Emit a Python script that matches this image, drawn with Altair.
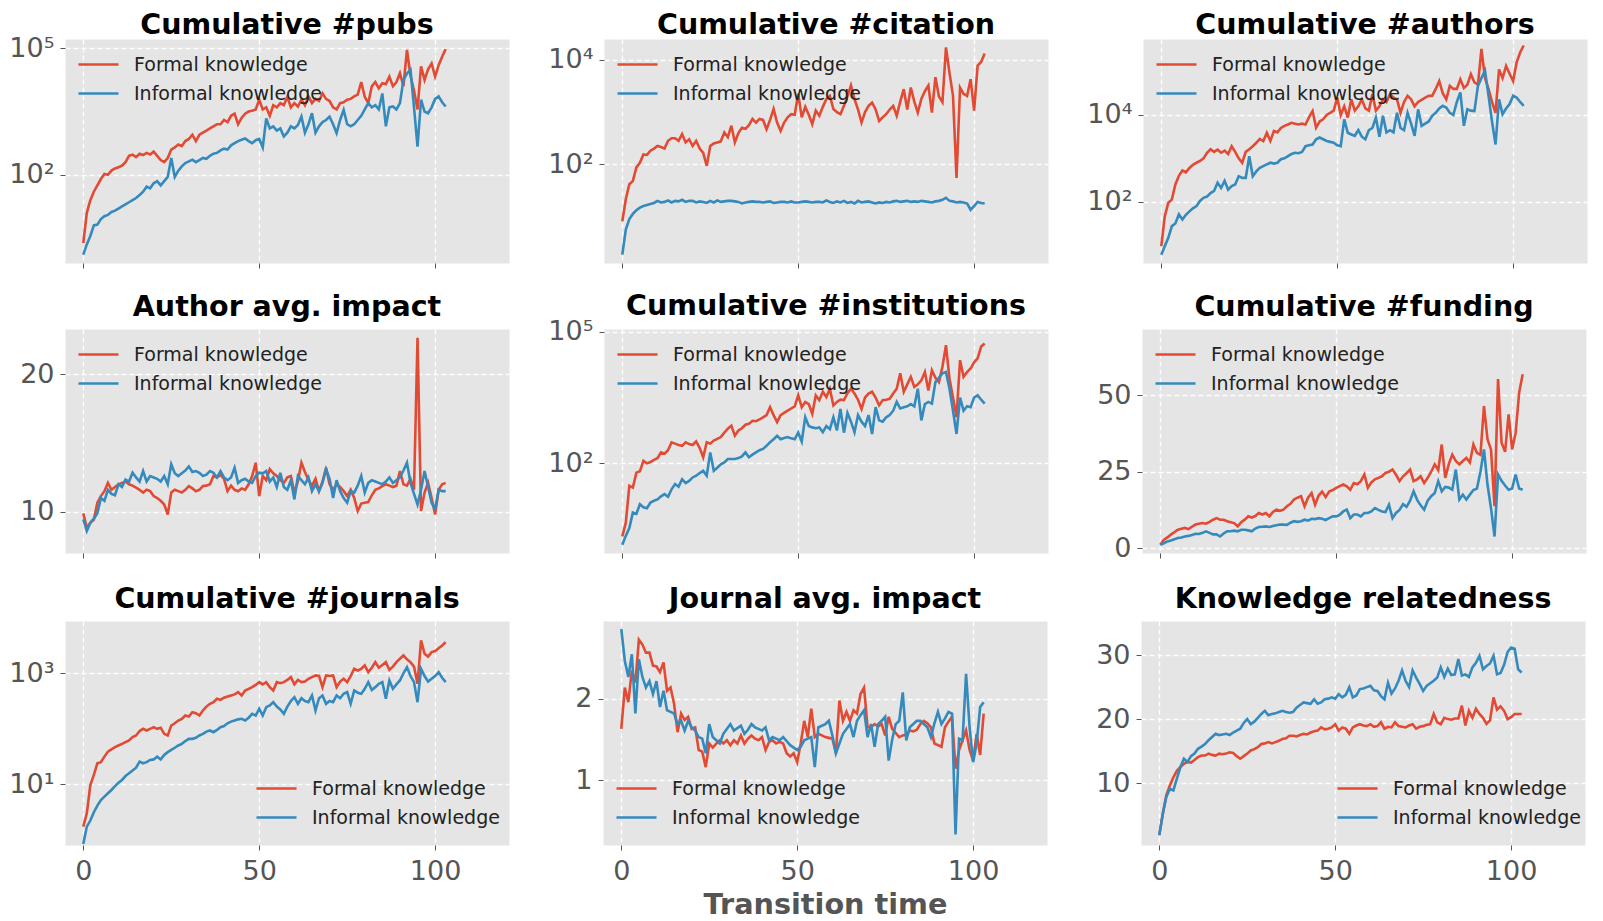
import altair as alt
import pandas as pd

T = list(range(104))
SERIES = ["Formal knowledge", "Informal knowledge"]
COLORS = ["#E24A33", "#348ABD"]

# ---- Cumulative #pubs (log10 of value) ----
pubs_formal_log10 = [
    0.38, 1.1, 1.4, 1.6, 1.75, 1.9, 2.02, 2.0, 2.1, 2.15,
    2.18, 2.22, 2.3, 2.45, 2.48, 2.42, 2.5, 2.47, 2.52, 2.48,
    2.55, 2.45, 2.35, 2.3, 2.4, 2.6, 2.65, 2.72, 2.68, 2.8,
    2.85, 2.95, 2.8, 2.95, 3.0, 3.05, 3.1, 3.15, 3.2, 3.2,
    3.3, 3.25, 3.4, 3.45, 3.2, 3.35, 3.45, 3.5, 3.52, 3.55,
    3.78, 3.55, 3.6, 3.4, 3.65, 3.6, 3.7, 3.65, 3.85, 3.6,
    3.7, 3.62, 3.78, 3.65, 3.86, 3.7, 3.8, 3.75, 3.93, 3.8,
    3.75, 3.6, 3.55, 3.7, 3.72, 3.78, 3.8, 3.86, 3.9, 4.2,
    3.85, 3.7, 4.1, 4.2, 4.05, 4.17, 4.15, 4.33, 4.1, 4.2,
    4.41, 4.1, 4.96, 4.35, 4.0, 3.55, 4.57, 4.25, 4.5, 4.64,
    4.33, 4.6, 4.8, 4.98]
pubs_informal_log10 = [
    0.11, 0.35, 0.55, 0.8, 0.82, 0.95, 1.02, 1.05, 1.12, 1.15,
    1.2, 1.25, 1.3, 1.35, 1.4, 1.45, 1.52, 1.6, 1.72, 1.68,
    1.8, 1.85, 1.75, 1.85, 1.95, 2.4, 1.95, 2.1, 2.2, 2.28,
    2.32, 2.36, 2.3, 2.35, 2.4, 2.38, 2.45, 2.5, 2.52, 2.58,
    2.62, 2.6, 2.7, 2.75, 2.8, 2.83, 2.86, 2.8, 2.75, 2.82,
    2.85, 2.65, 3.34, 3.1, 3.15, 3.05, 3.1, 2.91, 3.0, 3.15,
    3.1, 3.18, 3.38, 3.0, 3.2, 3.46, 3.0, 3.15, 3.25, 3.3,
    3.38, 3.2, 2.99, 3.3, 3.54, 3.2, 3.15, 3.2, 3.3, 3.4,
    3.55, 3.7, 3.6, 3.65, 3.55, 3.93, 3.15, 3.6, 3.62, 3.55,
    3.7, 4.25, 4.4, 4.49, 3.6, 2.67, 3.78, 3.5, 3.46, 3.6,
    3.8, 3.86, 3.72, 3.62]

# ---- Cumulative #citation (log10) ----
cit_formal_log10 = [
    0.91, 1.33, 1.62, 1.68, 1.94, 2.03, 2.19, 2.18, 2.26, 2.3,
    2.35, 2.33, 2.3, 2.45, 2.5, 2.5, 2.45, 2.58, 2.42, 2.48,
    2.35, 2.45, 2.3, 2.22, 1.97, 2.35, 2.4, 2.42, 2.44, 2.61,
    2.52, 2.74, 2.42, 2.6, 2.7, 2.68, 2.75, 2.87, 2.8, 2.87,
    2.85, 2.67, 2.85, 3.06, 2.8, 2.64, 2.8, 2.9, 2.96, 2.95,
    3.35, 2.9, 3.1, 2.95, 2.77, 3.03, 2.93, 3.1, 3.25, 3.31,
    3.06, 3.0, 2.96, 3.12, 3.3, 3.51, 3.25, 3.05, 2.8, 3.0,
    3.12, 3.18, 3.05, 2.83, 2.9, 2.96, 3.05, 3.12, 2.93, 3.2,
    3.44, 3.05, 3.47, 3.2, 2.99, 3.25, 3.4, 3.51, 2.99, 3.67,
    3.3, 3.19, 4.24, 3.75, 3.31, 1.74, 3.47, 3.35, 3.31, 3.63,
    3.03, 3.89, 3.96, 4.12]
cit_informal_log10 = [
    0.27, 0.75, 0.95, 1.05, 1.12, 1.17, 1.2, 1.22, 1.24, 1.26,
    1.3, 1.27, 1.28, 1.31, 1.27, 1.3, 1.29, 1.32, 1.28, 1.3,
    1.3, 1.27, 1.29, 1.28, 1.26, 1.3, 1.27, 1.31, 1.28, 1.29,
    1.3, 1.3, 1.29, 1.28, 1.25, 1.27, 1.28, 1.29, 1.28, 1.28,
    1.27, 1.28, 1.29, 1.26, 1.27, 1.28, 1.28, 1.27, 1.29, 1.27,
    1.27, 1.28, 1.29, 1.28, 1.27, 1.28, 1.28, 1.27, 1.31, 1.28,
    1.26, 1.29, 1.27, 1.3, 1.26, 1.28, 1.25, 1.3, 1.27, 1.28,
    1.29, 1.27, 1.25, 1.27, 1.26, 1.28, 1.27, 1.29, 1.3, 1.28,
    1.29, 1.3, 1.28, 1.29, 1.28, 1.3, 1.29, 1.28, 1.27, 1.29,
    1.3, 1.32, 1.36, 1.3, 1.29, 1.27, 1.28, 1.27, 1.25, 1.13,
    1.2, 1.28, 1.26, 1.25]

# ---- Cumulative #authors (log10) ----
auth_formal_log10 = [
    0.98, 1.67, 1.98, 2.05, 2.4, 2.6, 2.72, 2.68, 2.78, 2.85,
    2.9, 2.94, 3.0, 3.13, 3.21, 3.15, 3.2, 3.13, 3.18, 3.1,
    3.28, 3.15, 3.0, 2.9, 3.15, 3.21, 3.28, 3.36, 3.45, 3.4,
    3.59, 3.4, 3.63, 3.6, 3.7, 3.75, 3.78, 3.82, 3.8, 3.78,
    3.8, 3.78, 3.95, 4.09, 3.71, 3.85, 3.9, 4.0, 4.05, 4.1,
    4.4, 4.0, 4.2, 3.94, 4.36, 4.1, 4.2, 4.36, 4.15, 4.1,
    4.48, 4.1, 4.2, 4.36, 4.3, 4.48, 4.4, 4.36, 4.05, 4.3,
    4.44, 4.36, 4.2, 4.3, 4.35, 4.4, 4.44, 4.44, 4.6, 4.78,
    4.5, 4.36, 4.67, 4.6, 4.6, 4.82, 4.62, 4.7, 4.94, 4.75,
    4.7, 5.52, 4.85, 4.6, 4.3, 4.05, 5.05, 4.85, 5.13, 4.95,
    4.78, 5.21, 5.44, 5.6]
auth_informal_log10 = [
    0.78, 0.98, 1.17, 1.44, 1.5, 1.71, 1.59, 1.7, 1.78, 1.85,
    1.9, 2.02, 2.09, 2.12, 2.2, 2.25, 2.44, 2.32, 2.48, 2.28,
    2.36, 2.4, 2.59, 2.55, 2.55, 3.05, 2.59, 2.7, 2.78, 2.82,
    2.86, 2.9, 2.88, 2.9, 2.98, 3.0, 3.05, 3.1, 3.13, 3.12,
    3.15, 3.28, 3.3, 3.32, 3.44, 3.48, 3.44, 3.4, 3.38, 3.36,
    3.3, 3.28, 3.9, 3.59, 3.55, 3.52, 3.65, 3.5, 3.44, 3.65,
    3.7, 3.94, 3.5, 3.98, 3.6, 3.65, 3.6, 4.05, 3.7, 3.65,
    4.05, 3.8, 3.52, 4.13, 3.75, 3.8, 3.85, 3.98, 4.05, 4.15,
    4.21, 4.17, 4.05, 4.0, 4.3, 4.52, 3.75, 4.13, 4.1, 4.09,
    4.67, 4.85, 5.02, 4.45, 3.85, 3.32, 4.36, 4.02, 4.15, 4.25,
    4.44, 4.4, 4.3, 4.21]

# ---- Author avg. impact ----
aimp_formal = [
    9.88, 8.83, 9.2, 9.44, 10.66, 11.14, 11.5, 12.1, 11.6, 11.8,
    12.0, 12.1, 12.2, 12.0, 11.9, 11.75, 11.6, 11.4, 11.6, 11.5,
    11.14, 11.0, 10.8, 10.53, 9.8, 11.4, 11.6, 11.5, 11.4, 11.6,
    11.87, 11.7, 11.5, 11.6, 11.87, 11.9, 12.0, 12.6, 12.5, 12.7,
    12.4, 11.5, 11.9, 11.6, 11.5, 11.7, 11.6, 12.0, 12.6, 13.57,
    11.14, 12.6, 12.3, 13.1, 12.8, 12.6, 12.3, 12.1, 12.5, 12.6,
    11.4, 12.2, 13.57, 12.9, 12.3, 11.9, 12.4, 11.5, 12.2, 13.2,
    12.0, 11.6, 12.0, 11.8, 11.5, 11.14, 11.6, 11.0, 10.05, 10.6,
    10.66, 10.7, 11.2, 11.6, 11.7, 11.87, 12.0, 11.9, 11.8, 11.9,
    12.96, 12.0, 11.9, 12.4, 11.6, 22.67, 10.05, 11.4, 12.1, 11.0,
    9.8, 11.6, 12.0, 12.1]
aimp_informal = [
    9.44, 8.6, 9.2, 9.5, 9.9, 11.0, 10.8, 11.6, 11.3, 11.2,
    12.0, 11.8, 12.35, 12.2, 12.84, 12.5, 12.2, 12.96, 12.2, 12.6,
    12.5, 12.4, 12.2, 12.6, 12.0, 13.45, 12.8, 12.6, 12.8, 13.0,
    13.3, 12.9, 12.96, 12.84, 12.6, 12.7, 12.96, 12.84, 12.5, 12.96,
    12.5, 12.3, 12.5, 13.2, 12.1, 12.3, 12.4, 12.2, 12.1, 12.6,
    12.84, 12.8, 12.96, 12.2, 12.5, 11.8, 12.84, 11.8, 11.6, 12.3,
    10.9, 12.6, 12.3, 12.0, 12.5, 11.5, 12.0, 11.5, 12.1, 13.1,
    12.4, 11.0, 12.3, 11.5, 11.0, 10.66, 11.5, 11.4, 11.9, 12.6,
    11.4, 12.1, 12.3, 12.2, 12.1, 12.0, 12.2, 12.5, 12.1, 12.3,
    12.5, 13.0, 13.57, 12.1, 11.3, 10.53, 11.6, 12.96, 11.8, 10.66,
    10.2, 11.6, 11.5, 11.5]

# ---- Cumulative #institutions (log10) ----
inst_formal_log10 = [
    0.34, 0.65, 1.49, 1.45, 1.79, 1.82, 2.06, 2.0, 2.03, 2.08,
    2.12, 2.25, 2.22, 2.3, 2.48, 2.45, 2.42, 2.4, 2.48, 2.44,
    2.42, 2.5, 2.35, 2.14, 2.48, 2.45, 2.52, 2.56, 2.6, 2.7,
    2.79, 2.86, 2.63, 2.75, 2.8, 2.88, 2.9, 2.97, 2.96, 3.0,
    3.05, 3.1, 3.28, 3.1, 2.94, 3.1, 3.15, 3.2, 3.25, 3.3,
    3.55, 3.28, 3.4, 3.35, 3.13, 3.55, 3.44, 3.63, 3.51, 3.7,
    3.32, 3.4, 3.45, 3.44, 3.6, 3.7, 3.59, 3.45, 3.24, 3.5,
    3.59, 3.63, 3.5, 3.32, 3.44, 3.45, 3.47, 3.59, 3.7, 4.05,
    3.63, 3.8, 3.97, 3.74, 3.8, 3.89, 4.08, 3.66, 4.12, 3.95,
    3.85, 4.2, 4.69, 3.93, 3.5, 3.05, 4.35, 3.97, 4.08, 4.16,
    4.3, 4.39, 4.66, 4.73]
inst_informal_log10 = [
    0.15, 0.35, 0.53, 0.88, 0.85, 1.07, 1.0, 0.98, 1.11, 1.15,
    1.18, 1.25, 1.3, 1.24, 1.41, 1.53, 1.47, 1.64, 1.55, 1.6,
    1.68, 1.72, 1.78, 1.83, 1.72, 2.25, 1.83, 1.9, 1.98, 2.02,
    2.1, 2.1, 2.1, 2.12, 2.16, 2.25, 2.14, 2.2, 2.25, 2.3,
    2.33, 2.4, 2.48, 2.55, 2.63, 2.55, 2.58, 2.6, 2.57, 2.55,
    2.7, 2.5, 3.05, 2.85, 2.82, 2.8, 2.82, 2.71, 2.85, 2.78,
    3.05, 2.75, 3.24, 2.7, 3.15, 2.95, 2.71, 3.1, 2.95, 2.85,
    3.1, 2.67, 3.28, 2.98, 2.95, 3.05, 3.1, 3.2, 3.4, 3.25,
    3.28, 3.3, 3.35, 3.3, 3.7, 2.98, 3.35, 3.4, 3.36, 3.85,
    3.95, 4.05, 4.08, 3.7, 3.2, 2.67, 3.5, 3.2, 3.3, 3.28,
    3.5, 3.55, 3.45, 3.36]

# ---- Cumulative #funding ----
fund_formal = [
    1.1, 2.7, 3.5, 4.4, 5.2, 6.0, 6.3, 6.6, 6.2, 7.0,
    7.7, 8.0, 8.2, 8.0, 8.6, 9.3, 9.8, 9.3, 9.3, 8.8,
    8.5, 8.2, 7.1, 8.5, 9.3, 10.4, 10.0, 10.5, 11.5, 11.0,
    11.5, 10.4, 11.8, 12.6, 12.2, 12.6, 13.7, 14.5, 15.9, 16.5,
    17.0, 13.7, 16.5, 18.0, 14.2, 17.2, 18.5, 16.7, 18.5, 19.0,
    19.7, 20.3, 20.8, 20.2, 19.1, 21.3, 20.9, 21.9, 24.1, 19.7,
    21.5, 22.5, 23.0, 23.5, 24.6, 25.0, 25.7, 24.0, 21.9, 23.5,
    24.5, 25.7, 21.9, 22.5, 23.5, 21.3, 23.0, 25.0, 27.4, 25.5,
    33.9, 23.0, 27.5, 30.6, 28.5, 27.4, 28.5, 29.5, 28.0, 33.9,
    31.2, 30.5, 46.5, 35.6, 32.3, 13.7, 55.3, 34.5, 31.5, 43.8,
    32.3, 37.7, 50.9, 56.9]
fund_informal = [
    1.1, 1.6, 2.2, 2.5, 2.9, 3.3, 3.5, 3.8, 4.0, 4.3,
    4.7, 4.6, 5.0, 5.5, 5.0, 4.5, 4.5, 3.8, 4.8, 5.5,
    5.5, 5.7, 5.5, 6.0, 6.0, 5.8, 5.5, 6.4, 6.9, 7.0,
    7.1, 6.9, 7.2, 7.5, 7.7, 7.7, 7.6, 8.3, 8.8, 8.6,
    8.8, 9.3, 9.0, 9.6, 9.5, 9.8, 9.6, 9.2, 9.8, 10.4,
    10.4, 10.9, 12.0, 12.6, 9.8, 11.0, 11.0, 10.4, 11.5, 11.5,
    12.0, 13.1, 12.5, 12.0, 11.8, 14.2, 9.8, 11.5, 12.5, 14.4,
    13.5, 15.5, 18.6, 15.8, 14.0, 12.6, 15.5, 17.0, 18.0, 21.9,
    18.6, 20.0, 19.8, 19.1, 25.7, 15.9, 17.5, 15.9, 17.5, 19.0,
    19.5, 25.0, 32.3, 20.8, 13.0, 3.8, 24.1, 22.0, 20.5, 19.1,
    19.5, 24.1, 19.5, 19.1]

# ---- Cumulative #journals (log10) ----
jour_formal_log10 = [
    0.24, 0.48, 0.99, 1.17, 1.38, 1.4, 1.5, 1.59, 1.63, 1.67,
    1.7, 1.73, 1.76, 1.79, 1.85, 1.88, 1.96, 2.0, 1.97, 2.0,
    2.03, 2.0, 2.02, 1.91, 1.88, 2.06, 2.1, 2.15, 2.18, 2.24,
    2.22, 2.3, 2.28, 2.24, 2.33, 2.4, 2.45, 2.48, 2.54, 2.52,
    2.56, 2.58, 2.6, 2.62, 2.66, 2.6, 2.69, 2.72, 2.75, 2.79,
    2.84, 2.8, 2.84, 2.75, 2.69, 2.84, 2.82, 2.84, 2.88, 2.93,
    2.8, 2.88, 2.84, 2.85, 2.9, 2.93, 2.96, 2.95, 2.75, 2.96,
    2.95, 2.96, 2.75, 2.85, 2.9, 2.84, 2.95, 3.08, 3.05, 3.08,
    3.14, 3.02, 3.1, 3.2, 3.1, 3.15, 3.2, 3.06, 3.12, 3.2,
    3.26, 3.32, 3.25, 3.2, 3.12, 2.81, 3.59, 3.35, 3.3, 3.38,
    3.4, 3.45, 3.5, 3.56]
jour_informal_log10 = [
    -0.07, 0.24, 0.35, 0.5, 0.62, 0.72, 0.78, 0.84, 0.9, 0.97,
    1.03, 1.08, 1.15, 1.2, 1.25, 1.3, 1.41, 1.38, 1.4, 1.44,
    1.45, 1.5, 1.45, 1.53, 1.58, 1.62, 1.66, 1.7, 1.73, 1.78,
    1.82, 1.82, 1.84, 1.88, 1.91, 1.95, 1.97, 1.94, 1.98, 2.03,
    2.05, 2.1, 2.13, 2.15, 2.17, 2.18, 2.15, 2.2, 2.27, 2.24,
    2.36, 2.24, 2.39, 2.42, 2.48, 2.4, 2.35, 2.27, 2.4, 2.5,
    2.57, 2.45, 2.55, 2.5, 2.48, 2.6, 2.33, 2.55, 2.6, 2.45,
    2.5, 2.48, 2.6, 2.55, 2.63, 2.66, 2.45, 2.69, 2.65, 2.63,
    2.72, 2.84, 2.7, 2.75, 2.81, 2.84, 2.54, 2.87, 2.72, 2.8,
    2.87, 3.0, 3.11, 2.95, 2.84, 2.48, 3.08, 2.95, 2.85, 2.9,
    2.95, 3.02, 2.92, 2.84]

# ---- Journal avg. impact ----
jimp_formal = [
    1.63, 2.14, 1.96, 2.35, 2.2, 2.73, 2.67, 2.57, 2.57, 2.41,
    2.4, 2.33, 2.45, 2.1, 2.14, 1.94, 1.59, 1.82, 1.74, 1.78,
    1.63, 1.65, 1.37, 1.35, 1.16, 1.45, 1.4, 1.45, 1.49, 1.45,
    1.49, 1.43, 1.49, 1.45, 1.55, 1.45, 1.51, 1.55, 1.51, 1.49,
    1.53, 1.37, 1.47, 1.49, 1.45, 1.47, 1.45, 1.33, 1.29, 1.33,
    1.22, 1.45, 1.73, 1.53, 1.88, 1.53, 1.57, 1.55, 1.53, 1.52,
    1.51, 1.33, 1.98, 1.73, 1.84, 1.73, 1.86, 1.82, 2.06, 2.14,
    1.65, 1.65, 1.69, 1.66, 1.69, 1.55, 1.78, 1.63, 1.58, 1.53,
    1.55, 1.56, 1.61, 1.6, 1.62, 1.69, 1.73, 1.7, 1.65, 1.45,
    1.43, 1.41, 1.65, 1.72, 1.78, 1.14, 1.37, 1.49, 1.61, 1.37,
    1.24, 1.57, 1.31, 1.82]
jimp_informal = [
    2.86, 2.47, 2.27, 2.55, 1.82, 2.49, 2.27, 2.14, 2.22, 2.06,
    2.22, 1.9, 2.1, 1.86, 1.84, 1.82, 1.69, 1.73, 1.61, 1.73,
    1.65, 1.61, 1.53, 1.51, 1.33, 1.69, 1.53, 1.49, 1.45, 1.57,
    1.63, 1.69, 1.61, 1.64, 1.67, 1.57, 1.62, 1.69, 1.65, 1.63,
    1.61, 1.65, 1.49, 1.53, 1.51, 1.49, 1.53, 1.48, 1.43, 1.4,
    1.37, 1.41, 1.49, 1.51, 1.53, 1.16, 1.65, 1.67, 1.69, 1.73,
    1.55, 1.33, 1.45, 1.57, 1.63, 1.69, 1.53, 1.73, 1.8, 1.86,
    1.53, 1.69, 1.41, 1.69, 1.73, 1.78, 1.24, 1.5, 1.69, 1.73,
    2.08, 1.49, 1.65, 1.69, 1.73, 1.73, 1.69, 1.65, 1.53, 1.7,
    1.84, 1.69, 1.76, 1.84, 1.82, 0.33, 1.51, 1.49, 2.31, 1.65,
    1.22, 1.45, 1.9, 1.96]

# ---- Knowledge relatedness ----
rel_formal = [
    1.84, 5.2, 8.1, 9.6, 10.9, 11.9, 12.5, 13.0, 13.3, 13.2,
    13.6, 14.05, 14.3, 14.3, 14.6, 14.4, 14.3, 14.6, 14.5, 14.6,
    14.8, 14.7, 14.2, 13.8, 14.2, 14.6, 15.1, 15.3, 15.6, 16.1,
    16.2, 16.4, 16.2, 16.4, 16.6, 16.9, 17.0, 17.4, 17.4, 17.3,
    17.5, 17.7, 17.6, 17.9, 18.1, 18.2, 18.7, 18.4, 18.5, 18.7,
    19.2, 18.2, 18.7, 18.5, 17.7, 18.7, 19.0, 19.2, 19.0, 18.9,
    19.2, 18.8, 18.9, 19.5, 18.5, 18.8, 18.7, 19.5, 18.9, 18.8,
    18.7, 19.0, 19.2, 18.5, 18.8, 18.9, 19.1, 19.2, 20.8, 19.5,
    19.2, 20.2, 20.0, 19.9, 20.1, 20.1, 22.1, 19.0, 21.3, 20.2,
    21.6, 20.8, 20.2, 19.25, 19.8, 23.4, 21.5, 22.0, 21.3, 20.0,
    20.3, 20.8, 20.8, 20.8]
rel_informal = [
    1.84, 5.2, 7.8, 9.1, 8.85, 10.7, 12.5, 13.8, 13.3, 14.2,
    14.6, 15.35, 15.7, 16.1, 16.7, 17.2, 17.7, 17.5, 17.6, 17.7,
    17.5, 17.9, 18.2, 18.5, 19.4, 20.0, 19.2, 19.6, 20.2, 20.8,
    21.3, 20.6, 20.8, 20.9, 21.1, 21.3, 21.1, 21.0, 21.1, 21.8,
    22.2, 22.6, 22.5, 22.4, 23.1, 22.4, 22.6, 23.1, 23.2, 23.4,
    23.2, 23.9, 23.4, 23.8, 25.0, 23.4, 23.7, 24.7, 24.8, 25.0,
    25.2, 24.5, 24.4, 23.6, 23.1, 25.7, 24.0, 24.8, 26.0, 27.6,
    26.0, 25.0, 27.6, 26.5, 25.5, 24.4, 25.2, 25.6, 26.0, 26.5,
    28.1, 26.6, 27.9, 26.9, 27.0, 29.4, 26.8, 27.0, 26.6, 28.1,
    28.8, 29.9, 27.8, 28.3, 28.7, 29.9, 27.0, 27.2, 28.5, 30.5,
    31.2, 31.0, 27.8, 27.3]

SUP = {1: "\u00b9", 2: "\u00b2", 3: "\u00b3", 4: "\u2074", 5: "\u2075"}


def pw(arr):
    return [10 ** v for v in arr]


# toff: title offset per panel (compensates tick labels that stick out above the plot)
PANELS = [
    dict(title="Cumulative #pubs", f=pw(pubs_formal_log10), i=pw(pubs_informal_log10),
         log=True, dom=(-0.09, 5.22), exps=[2, 5], leg="tl", toff=-5),
    dict(title="Cumulative #citation", f=pw(cit_formal_log10), i=pw(cit_informal_log10),
         log=True, dom=(0.11, 4.4), exps=[2, 4], leg="tl", toff=0),
    dict(title="Cumulative #authors", f=pw(auth_formal_log10), i=pw(auth_informal_log10),
         log=True, dom=(0.59, 5.75), exps=[2, 4], leg="tl", toff=0),
    dict(title="Author avg. impact", f=aimp_formal, i=aimp_informal,
         log=False, dom=(7.0, 23.3), ticks=[10, 20], leg="tl", toff=8),
    dict(title="Cumulative #institutions", f=pw(inst_formal_log10), i=pw(inst_informal_log10),
         log=True, dom=(-0.04, 5.06), exps=[2, 5], leg="tl", toff=-3),
    dict(title="Cumulative #funding", f=fund_formal, i=fund_informal,
         log=False, dom=(-1.6, 71.7), ticks=[0, 25, 50], leg="tl", toff=8),
    dict(title="Cumulative #journals", f=pw(jour_formal_log10), i=pw(jour_informal_log10),
         log=True, dom=(-0.09, 3.94), exps=[1, 3], leg="br", toff=8),
    dict(title="Journal avg. impact", f=jimp_formal, i=jimp_informal,
         log=False, dom=(0.2, 2.96), ticks=[1, 2], leg="bl", toff=8),
    dict(title="Knowledge relatedness", f=rel_formal, i=rel_informal,
         log=False, dom=(0.3, 35.35), ticks=[10, 20, 30], leg="br2", toff=8),
]

LEG_POS = {"tl": (22, 14), "bl": (22, 156), "br": (200, 156), "br2": (205, 156)}
W, H = 444, 224


def make_panel(p, r, c):
    df = pd.DataFrame({
        "t": T + T,
        "v": list(p["f"]) + list(p["i"]),
        "s": [SERIES[0]] * len(T) + [SERIES[1]] * len(T),
    })
    if p["log"]:
        lo, hi = p["dom"]
        yscale = alt.Scale(type="log", domain=[10 ** lo, 10 ** hi], nice=False)
        vals = [10 ** e for e in p["exps"]]
        expr = "''"
        for e in reversed(p["exps"]):
            expr = f"datum.value == {10 ** e} ? '10{SUP[e]}' : ({expr})"
        yaxis = alt.Axis(values=vals, labelExpr=expr, minExtent=55, maxExtent=55,
                         labelPadding=6)
    else:
        yscale = alt.Scale(domain=list(p["dom"]), nice=False, zero=False)
        yaxis = alt.Axis(values=p["ticks"], minExtent=55, maxExtent=55, labelPadding=6)

    if r < 2:
        ext = 3 if r == 0 else 5
        xaxis = alt.Axis(values=[0, 50, 100], labels=False, minExtent=ext, maxExtent=ext)
        xtitle = None
    else:
        xaxis = alt.Axis(values=[0, 50, 100], labelPadding=8, labelFlush=False,
                         titlePadding=6, titleFontSize=28.7, titleFontWeight="bold",
                         titleColor="#555555", titleFont="DejaVu Sans")
        xtitle = "Transition time" if c == 1 else None

    lx, ly = LEG_POS[p["leg"]]
    legend = alt.Legend(orient="none", legendX=lx, legendY=ly, symbolType="M-2,0H2",
                        symbolSize=400, symbolStrokeWidth=2.6, labelOffset=24,
                        rowPadding=7, padding=0, labelFontSize=19, labelColor="#222222",
                        labelFont="DejaVu Sans", labelLimit=400)

    ch = alt.Chart(df).mark_line(strokeWidth=2.6).encode(
        x=alt.X("t:Q", scale=alt.Scale(domain=[-5.2, 121], nice=False, zero=False),
                axis=xaxis, title=xtitle),
        y=alt.Y("v:Q", scale=yscale, axis=yaxis, title=None),
        color=alt.Color("s:N", scale=alt.Scale(domain=SERIES, range=COLORS),
                        legend=legend, title=None),
    ).properties(width=W, height=H,
                 title=alt.TitleParams(text=p["title"], offset=p["toff"]))
    return ch


rows = []
for r in range(3):
    row = alt.hconcat(*[make_panel(PANELS[r * 3 + c], r, c) for c in range(3)], spacing=37)
    row = row.resolve_scale(color="independent").resolve_legend(color="independent")
    rows.append(row)

chart = alt.vconcat(*rows, spacing=22).resolve_scale(color="independent").resolve_legend(color="independent")
chart = chart.properties(padding={"left": 0, "top": 2, "right": 0, "bottom": 0})
chart = chart.configure_view(fill="#E5E5E5", stroke="transparent").configure_axis(
    domain=False, tickColor="#555555", tickSize=5, tickWidth=1,
    labelColor="#555555", labelFontSize=27, labelFont="DejaVu Sans",
    grid=True, gridColor="white", gridDash=[5, 3], gridWidth=1.3, gridOpacity=1,
).configure_title(
    font="DejaVu Sans", fontSize=28.5, fontWeight="bold", color="black",
    anchor="middle", baseline="alphabetic",
)

chart.save("out.html", embed_options={"renderer": "svg", "actions": False})
